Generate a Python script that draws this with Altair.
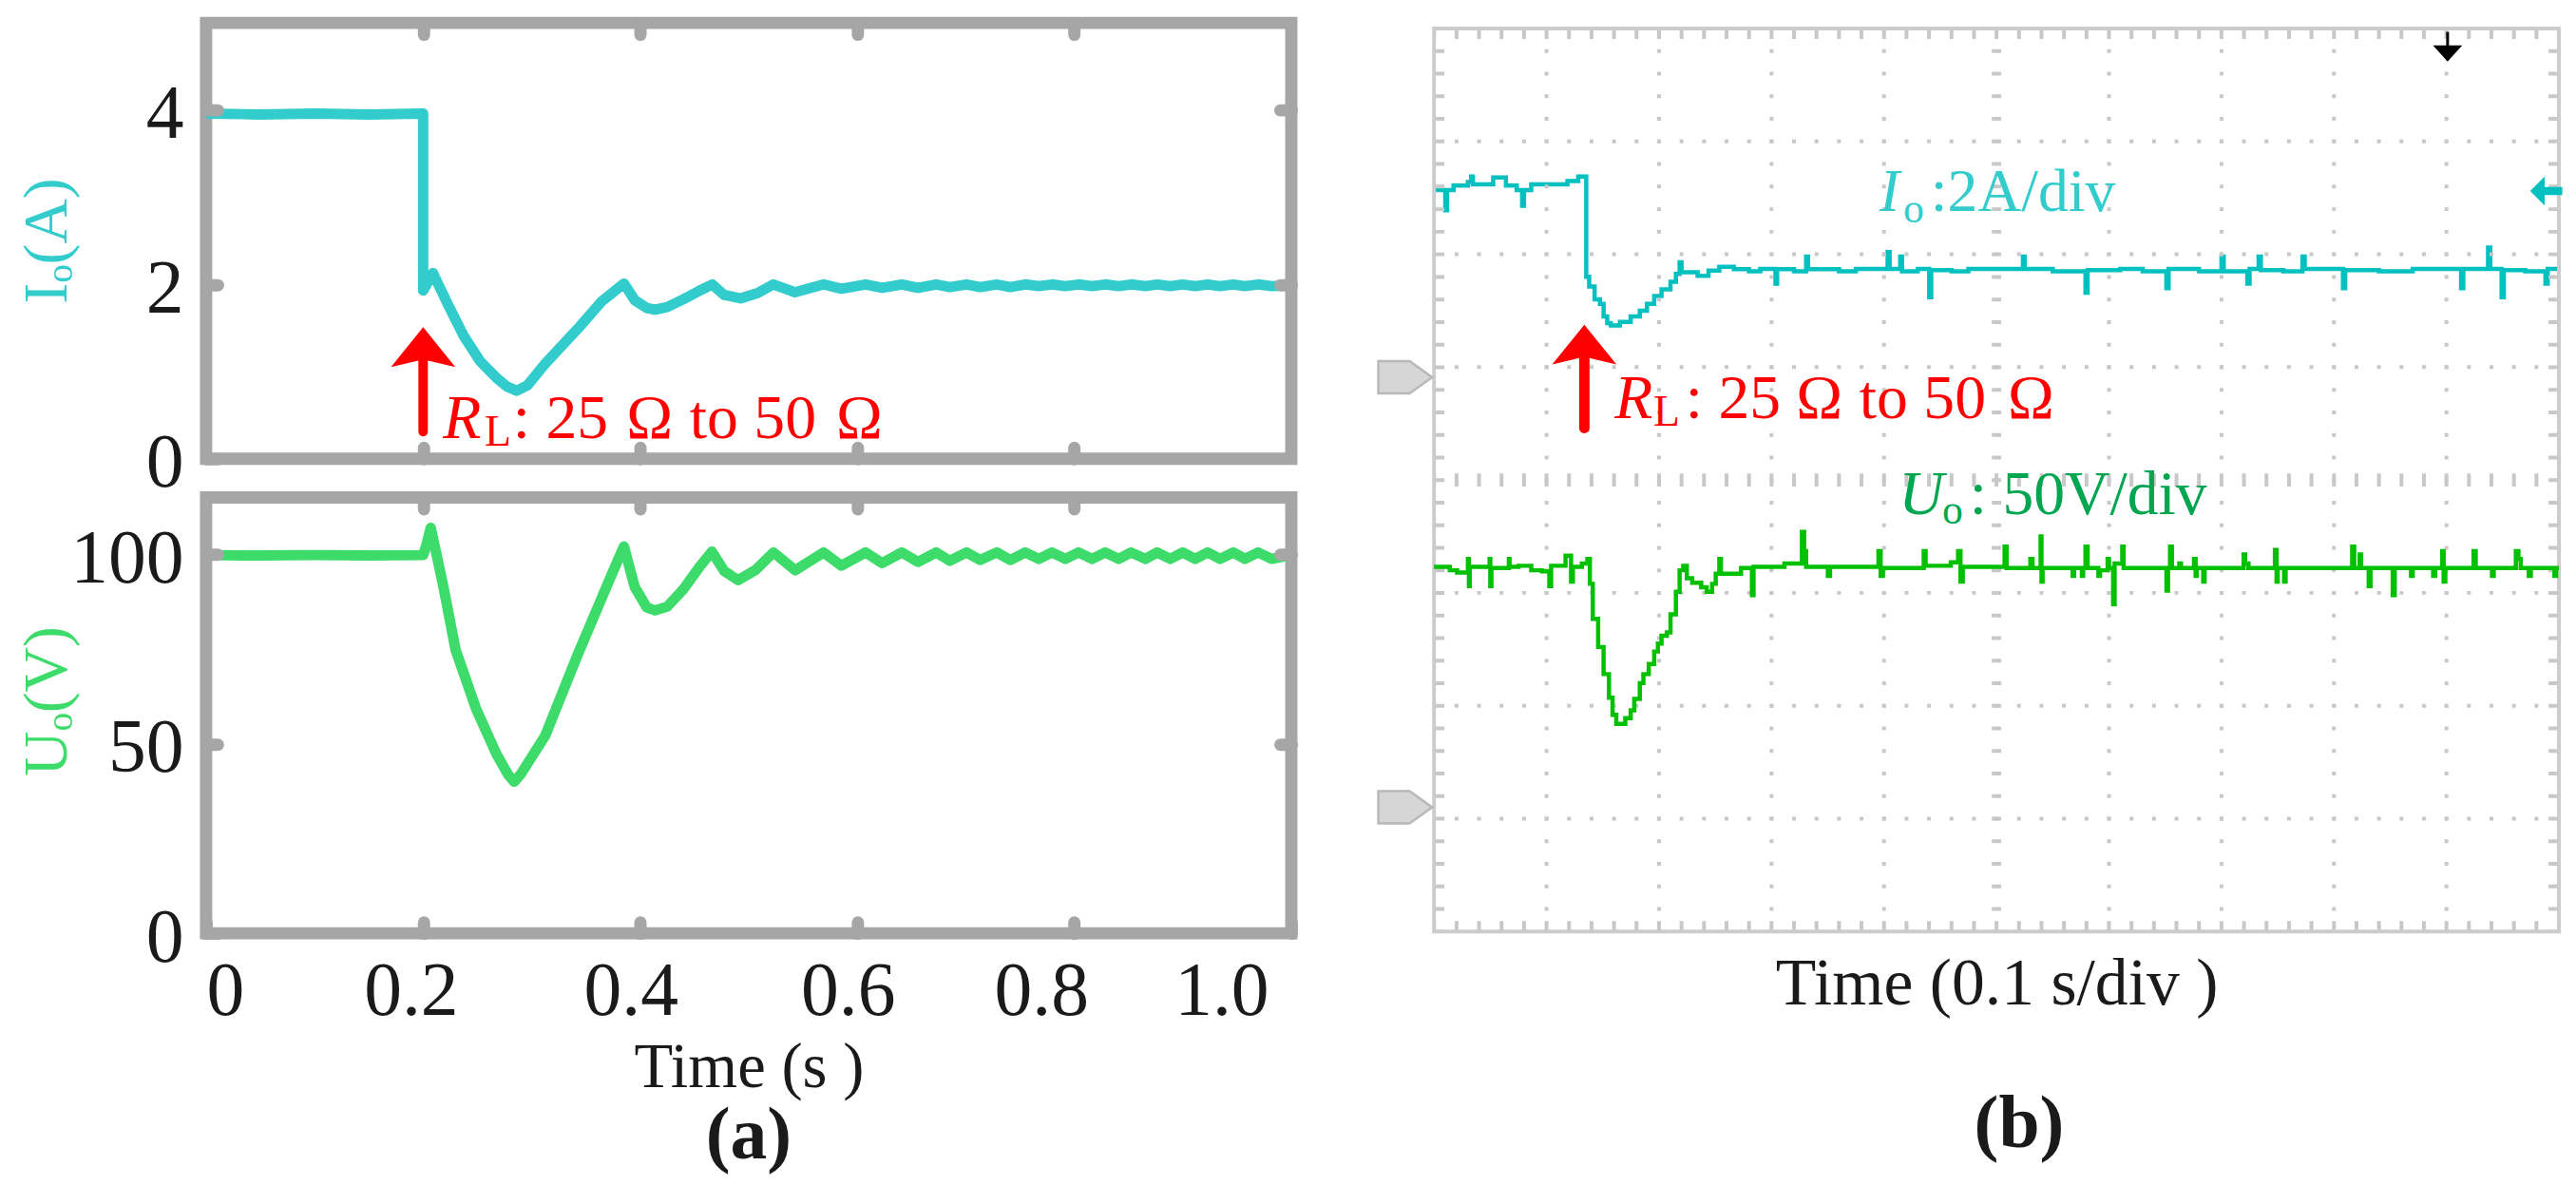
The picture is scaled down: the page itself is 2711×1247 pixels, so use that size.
import altair as alt
import pandas as pd

FONT = "Liberation Serif"
BLACK = "#1a1a1a"
RED = "#ff0000"
FRAME_A = "#a6a6a6"
GRID_B = "#c8c8c8"
IO_COLOR_A = "#33cccc"
UO_COLOR_A = "#3ddc6a"
IO_COLOR_B = "#00c0c0"
UO_COLOR_B = "#00c000"
UO_TEXT_B = "#00a550"
OMEGA = "\u03a9"

# ---------------- panel (a): simulation ----------------
A_X_TICKS = [0, 0.2, 0.4, 0.6, 0.8, 1.0]
A_X_INNER = [0.2, 0.4, 0.6, 0.8]
IO_TICKS = [0, 2, 4]
UO_TICKS = [0, 50, 100]

# (time s, Io A)
IO_A = [
    (0.0, 3.96), (0.05, 3.95), (0.1, 3.96), (0.15, 3.95), (0.2, 3.96), (0.2, 1.93),
    (0.209, 2.13), (0.2224, 1.78), (0.2374, 1.41), (0.2524, 1.12), (0.2674, 0.93),
    (0.2770, 0.83), (0.2862, 0.78), (0.2960, 0.84), (0.3124, 1.09), (0.3424, 1.49),
    (0.3649, 1.81), (0.3851, 2.01), (0.3949, 1.82), (0.4061, 1.73), (0.4138, 1.71),
    (0.4249, 1.74), (0.4399, 1.83), (0.4549, 1.93), (0.4664, 2.0), (0.4774, 1.88),
    (0.4924, 1.84), (0.5080, 1.90), (0.5228, 2.0), (0.5428, 1.91), (0.5690, 2.0),
    (0.5854, 1.95), (0.6077, 2.0), (0.6230, 1.96), (0.6411, 2.0), (0.6559, 1.96),
    (0.6728, 2.0), (0.6853, 1.97), (0.7007, 2.0), (0.7132, 1.97), (0.7286, 2.0),
    (0.7410, 1.97), (0.7548, 2.0), (0.7673, 1.98), (0.7794, 2.0), (0.7918, 1.98),
    (0.8039, 2.0), (0.8164, 1.98), (0.8285, 2.0), (0.8409, 1.98), (0.8524, 2.0),
    (0.8655, 1.98), (0.8764, 2.0), (0.8885, 1.98), (0.9000, 2.0), (0.9114, 1.98),
    (0.9229, 2.0), (0.9344, 1.98), (0.9465, 2.0), (0.9573, 1.98), (0.9694, 2.0),
    (0.9819, 1.98), (1.0, 1.99),
]

# (time s, Uo V)
UO_A = [
    (0.0, 99.8), (0.05, 99.7), (0.1, 99.8), (0.15, 99.7), (0.2, 99.8), (0.203, 102.5),
    (0.207, 107.0), (0.2187, 91.4), (0.2299, 74.8), (0.2487, 59.3), (0.2674, 47.4),
    (0.2780, 42.0), (0.2839, 40.0), (0.2900, 42.0), (0.3124, 52.1), (0.3425, 73.6),
    (0.3724, 93.8), (0.3850, 102.1), (0.3949, 91.4), (0.4061, 86.0), (0.4137, 85.2),
    (0.4249, 86.2), (0.4399, 90.8), (0.4549, 96.8), (0.4661, 100.7), (0.4774, 95.6),
    (0.4902, 93.2), (0.5060, 95.8), (0.5228, 100.5), (0.5428, 95.8), (0.5690, 100.5),
    (0.5854, 97.0), (0.6077, 100.5), (0.6230, 97.7), (0.6411, 100.5), (0.6559, 98.0),
    (0.6728, 100.5), (0.6853, 98.3), (0.7007, 100.5), (0.7132, 98.5), (0.7286, 100.5),
    (0.7410, 98.5), (0.7548, 100.5), (0.7673, 98.8), (0.7794, 100.5), (0.7918, 98.8),
    (0.8039, 100.5), (0.8164, 98.8), (0.8285, 100.5), (0.8409, 98.8), (0.8524, 100.5),
    (0.8655, 98.8), (0.8764, 100.5), (0.8885, 98.8), (0.9000, 100.5), (0.9114, 98.8),
    (0.9229, 100.5), (0.9344, 98.8), (0.9465, 100.5), (0.9573, 98.8), (0.9694, 100.5),
    (0.9819, 98.8), (1.0, 99.8),
]

# annotation anchors in panel (a), data units
ARROW_A = {"x": [0.2], "y0": [0.31], "y1": [1.2], "yh": [1.28], "yt": [0.242]}

# ---------------- panel (b): oscilloscope, in divisions ----------------
GRID_X = [1, 2, 3, 4, 6, 7, 8, 9]
CENTER_X = [5]
GRID_Y = [1, 2, 3, 5, 6, 7]
CENTER_Y = [4]

IO_B = [
    (0.0, 6.57), (0.10, 6.39), (0.115, 6.57), (0.173, 6.61), (0.301, 6.64), (0.33, 6.69),
    (0.345, 6.62), (0.526, 6.68), (0.639, 6.61), (0.735, 6.57), (0.783, 6.43), (0.80, 6.57),
    (0.864, 6.62), (1.186, 6.65), (1.282, 6.69), (1.353, 5.80), (1.379, 5.715), (1.427, 5.60),
    (1.475, 5.56), (1.507, 5.45), (1.539, 5.39), (1.571, 5.37), (1.652, 5.40), (1.748, 5.45),
    (1.829, 5.50), (1.893, 5.56), (1.957, 5.63), (2.022, 5.69), (2.102, 5.756), (2.150, 5.826),
    (2.183, 5.93), (2.20, 5.84), (2.343, 5.81), (2.440, 5.855), (2.536, 5.89), (2.665, 5.868),
    (2.80, 5.85), (2.90, 5.87), (3.035, 5.74), (3.05, 5.868), (3.20, 5.85), (3.308, 5.98),
    (3.325, 5.868), (3.60, 5.85), (3.75, 5.87), (4.032, 6.02), (4.05, 5.87), (4.144, 5.98),
    (4.16, 5.85), (4.30, 5.87), (4.402, 5.62), (4.42, 5.86), (4.60, 5.85), (4.75, 5.87),
    (5.235, 5.98), (5.25, 5.87), (5.50, 5.85), (5.791, 5.66), (5.81, 5.86), (6.10, 5.87),
    (6.30, 5.85), (6.51, 5.70), (6.53, 5.87), (6.80, 5.85), (7.0, 5.98), (7.02, 5.85),
    (7.23, 5.74), (7.25, 5.87), (7.33, 5.98), (7.35, 5.86), (7.55, 5.85), (7.72, 5.98),
    (7.74, 5.87), (8.08, 5.70), (8.10, 5.86), (8.40, 5.85), (8.70, 5.87), (9.13, 5.70),
    (9.15, 5.87), (9.37, 6.06), (9.39, 5.87), (9.49, 5.62), (9.51, 5.86), (9.70, 5.85),
    (9.88, 5.74), (9.90, 5.87), (10.0, 5.87),
]

UO_B = [
    (0.0, 3.23), (0.14, 3.20), (0.205, 3.18), (0.301, 3.30), (0.31, 3.06), (0.317, 3.23),
    (0.494, 3.30), (0.50, 3.06), (0.51, 3.22), (0.665, 3.30), (0.671, 3.23), (0.751, 3.24),
    (0.864, 3.20), (0.96, 3.19), (1.025, 3.06), (1.041, 3.24), (1.169, 3.33), (1.218, 3.10),
    (1.234, 3.23), (1.314, 3.26), (1.363, 3.30), (1.385, 3.08), (1.411, 2.77), (1.459, 2.52),
    (1.507, 2.28), (1.555, 2.07), (1.587, 1.92), (1.62, 1.84), (1.70, 1.89), (1.748, 1.96),
    (1.78, 2.06), (1.829, 2.20), (1.861, 2.28), (1.909, 2.37), (1.957, 2.48), (1.99, 2.55),
    (2.022, 2.62), (2.07, 2.65), (2.102, 2.81), (2.15, 3.01), (2.183, 3.20), (2.215, 3.24),
    (2.247, 3.13), (2.295, 3.09), (2.375, 3.05), (2.424, 3.01), (2.472, 3.08), (2.504, 3.17),
    (2.536, 3.30), (2.55, 3.17), (2.729, 3.22), (2.826, 2.98), (2.84, 3.23), (3.115, 3.26),
    (3.27, 3.54), (3.29, 3.37), (3.308, 3.23), (3.501, 3.15), (3.52, 3.23), (3.951, 3.37),
    (3.97, 3.15), (3.99, 3.22), (4.353, 3.37), (4.37, 3.24), (4.594, 3.27), (4.659, 3.37),
    (4.68, 3.10), (4.70, 3.23), (5.072, 3.41), (5.09, 3.22), (5.301, 3.30), (5.32, 3.22),
    (5.392, 3.50), (5.40, 3.10), (5.41, 3.22), (5.677, 3.15), (5.69, 3.22), (5.759, 3.15),
    (5.77, 3.22), (5.791, 3.41), (5.81, 3.22), (5.906, 3.15), (5.92, 3.20), (5.988, 3.30),
    (6.0, 3.22), (6.037, 2.90), (6.05, 3.26), (6.118, 3.41), (6.13, 3.22), (6.511, 3.02),
    (6.525, 3.22), (6.543, 3.41), (6.56, 3.22), (6.625, 3.26), (6.64, 3.22), (6.756, 3.30),
    (6.77, 3.15), (6.78, 3.22), (6.838, 3.10), (6.85, 3.22), (7.197, 3.34), (7.21, 3.26),
    (7.24, 3.22), (7.475, 3.38), (7.49, 3.10), (7.50, 3.22), (7.557, 3.10), (7.57, 3.22),
    (8.162, 3.41), (8.18, 3.22), (8.228, 3.34), (8.24, 3.22), (8.309, 3.06), (8.325, 3.22),
    (8.522, 2.98), (8.54, 3.22), (8.685, 3.15), (8.70, 3.22), (8.882, 3.15), (8.90, 3.22),
    (8.963, 3.37), (8.975, 3.10), (8.99, 3.22), (9.241, 3.37), (9.26, 3.22), (9.405, 3.15),
    (9.42, 3.22), (9.617, 3.37), (9.64, 3.30), (9.66, 3.22), (9.732, 3.15), (9.75, 3.22),
    (9.96, 3.15), (9.975, 3.22), (10.0, 3.22),
]

# marker / annotation anchors in panel (b), divisions
GROUND_MARKS = {"x": [-0.256, -0.256], "y": [4.91, 1.10]}
TRIG_MARK = {"x": [9.01], "y0": [7.97], "y1": [7.72], "yh": [7.78]}
LEVEL_MARK = {"x": [9.887], "y": [6.56]}
ARROW_B = {"x": [1.336], "y0": [4.46], "y1": [5.1], "yh": [5.20], "yt": [4.548]}
IO_LABEL_B = {"x": [3.96], "y": [6.38]}
UO_LABEL_B = {"x": [4.13], "y": [3.70]}

ARROW_UP = "M0,-0.62 L1,0.62 L0,0.38 L-1,0.62 Z"
TRI_DOWN = "M-1,-0.55 L1,-0.55 L0,0.55 Z"
LEVEL_SHAPE = "M-1,0 L-0.1,-0.9 L-0.1,-0.25 L1,-0.25 L1,0.25 L-0.1,0.25 L-0.1,0.9 Z"
GROUND_SHAPE = "M-1,-0.6 L0.16,-0.6 L1,0 L0.16,0.6 L-1,0.6 Z"

W_A, H_A = 1148, 461
W_B, H_B = 1190, 961

xa = alt.Scale(domain=[0, 1], nice=False, zero=False)
ya_io = alt.Scale(domain=[0, 5], nice=False, zero=False)
ya_uo = alt.Scale(domain=[0, 115], nice=False, zero=False)
xb = alt.Scale(domain=[0, 10], nice=False, zero=False)
yb = alt.Scale(domain=[0, 8.05], nice=False, zero=False)

TICK_STYLE = dict(offset=-12, tickSize=12, tickWidth=13, tickColor=FRAME_A,
                  tickCap="round", domain=False, grid=False, zindex=1, minExtent=0)


def bare_axis(orient, values):
    return alt.Axis(orient=orient, values=values, labels=False, title=None, **TICK_STYLE)


def y_label_axis(values, title, color, title_y):
    return alt.Axis(orient="left", values=values, labels=True, labelFont=FONT,
                    labelFontSize=80, labelColor=BLACK, labelPadding=24, labelOffset=5,
                    title=title, titleFont=FONT, titleFontSize=66, titleFontWeight="normal",
                    titleColor=color, titleX=-146, titleY=title_y, titleAngle=270,
                    titleBaseline="bottom", titleAlign="center", **TICK_STYLE)


def text_piece(df, xscale, yscale, yfield, text, dx, dy=0, size=66, style="normal",
               color=RED):
    return alt.Chart(df).mark_text(
        text=text, font=FONT, fontSize=size, fontStyle=style, color=color,
        align="left", baseline="alphabetic", dx=dx, dy=dy,
    ).encode(
        x=alt.X("x:Q", scale=xscale, axis=None),
        y=alt.Y(f"{yfield}:Q", scale=yscale, axis=None),
    )


def arrow(df, xscale, yscale, shaft_w):
    shaft = alt.Chart(df).mark_rule(color=RED, strokeWidth=shaft_w, strokeCap="round").encode(
        x=alt.X("x:Q", scale=xscale, axis=None),
        y=alt.Y("y0:Q", scale=yscale, axis=None), y2="y1:Q")
    head = alt.Chart(df).mark_point(shape=ARROW_UP, size=4624, filled=True, color=RED,
                                    opacity=1, strokeWidth=0).encode(
        x=alt.X("x:Q", scale=xscale, axis=None),
        y=alt.Y("yh:Q", scale=yscale, axis=None))
    return [shaft, head]


def rl_label(df, xscale, yscale, offsets):
    r, l, p1, o1, p2, o2 = offsets
    return [
        text_piece(df, xscale, yscale, "yt", "R", r, style="italic"),
        text_piece(df, xscale, yscale, "yt", "L", l, dy=8, size=46),
        text_piece(df, xscale, yscale, "yt", ": 25", p1),
        text_piece(df, xscale, yscale, "yt", OMEGA, o1),
        text_piece(df, xscale, yscale, "yt", "to 50", p2),
        text_piece(df, xscale, yscale, "yt", OMEGA, o2),
    ]


# ---------- (a) top: Io ----------
io_a = pd.DataFrame(IO_A, columns=["t", "v"])
io_a["i"] = range(len(io_a))
io_line = alt.Chart(io_a).mark_line(color=IO_COLOR_A, strokeWidth=11, strokeJoin="round").encode(
    x=alt.X("t:Q", scale=xa, axis=bare_axis("bottom", A_X_INNER)),
    y=alt.Y("v:Q", scale=ya_io, axis=y_label_axis(IO_TICKS, "Iₒ(A)", IO_COLOR_A, 230)),
    order="i:Q")
io_frame = alt.Chart(io_a).mark_line(opacity=0).encode(
    x=alt.X("t:Q", scale=xa, axis=bare_axis("top", A_X_INNER)),
    y=alt.Y("v:Q", scale=ya_io, axis=bare_axis("right", [2, 4])))
arr_a = pd.DataFrame(ARROW_A)
top_a = alt.layer(
    io_line, io_frame, *arrow(arr_a, xa, ya_io, 10),
    *rl_label(arr_a, xa, ya_io, (21, 65, 95, 215, 282, 437)),
).resolve_axis(x="independent", y="independent").properties(
    width=W_A, height=H_A, view=alt.ViewBackground(stroke=FRAME_A, strokeWidth=13))

# ---------- (a) bottom: Uo ----------
uo_a = pd.DataFrame(UO_A, columns=["t", "v"])
uo_a["i"] = range(len(uo_a))
x_label_axis = alt.Axis(
    orient="bottom", values=A_X_TICKS, labels=True, labelFont=FONT, labelFontSize=80,
    labelColor=BLACK, labelPadding=23, labelFlush=False, labelOverlap=False,
    labelExpr="datum.value == 0 ? '0' : format(datum.value, '.1f')",
    labelOffset={"condition": [
        {"test": "datum.value < 0.1", "value": 20},
        {"test": "datum.value > 0.9", "value": -74},
        {"test": "datum.value > 0.7", "value": -35},
        {"test": "datum.value < 0.3", "value": -13},
    ], "value": -10},
    title="Time (s )", titleFont=FONT, titleFontSize=67, titleFontWeight="normal",
    titleColor=BLACK, titlePadding=7, **TICK_STYLE)
uo_line = alt.Chart(uo_a).mark_line(color=UO_COLOR_A, strokeWidth=11, strokeJoin="round").encode(
    x=alt.X("t:Q", scale=xa, axis=x_label_axis),
    y=alt.Y("v:Q", scale=ya_uo, axis=y_label_axis(UO_TICKS, "Uₒ(V)", UO_COLOR_A, 215)),
    order="i:Q")
uo_frame = alt.Chart(uo_a).mark_line(opacity=0).encode(
    x=alt.X("t:Q", scale=xa, axis=bare_axis("top", A_X_INNER)),
    y=alt.Y("v:Q", scale=ya_uo, axis=bare_axis("right", [50, 100])))
bot_a = alt.layer(uo_line, uo_frame).resolve_axis(
    x="independent", y="independent").properties(
    width=W_A, height=H_A, view=alt.ViewBackground(stroke=FRAME_A, strokeWidth=13),
    title=alt.TitleParams(text="(a)", orient="bottom", font=FONT, fontSize=78,
                          fontWeight="bold", color=BLACK, anchor="middle", frame="group",
                          offset=1))

col_a = alt.vconcat(top_a, bot_a, spacing=41, bounds="flush")

# ---------- (b) oscilloscope ----------
def rule_v(df, width, dash, dash_len=19.88, x_off=0):
    return alt.Chart(df).mark_rule(color=GRID_B, strokeWidth=width, strokeDash=[dash, dash_len],
                                   strokeDashOffset=dash / 2, xOffset=x_off).encode(
        x=alt.X("x:Q", scale=xb, axis=None),
        y=alt.Y("y1:Q", scale=yb, axis=None), y2="y0:Q")


def rule_h(df, width, dash, dash_len=19.8, y_off=0):
    return alt.Chart(df).mark_rule(color=GRID_B, strokeWidth=width, strokeDash=[dash, dash_len],
                                   strokeDashOffset=dash / 2, yOffset=y_off).encode(
        x=alt.X("x0:Q", scale=xb, axis=None), x2="x1:Q",
        y=alt.Y("y:Q", scale=yb, axis=None))


gv = pd.DataFrame({"x": GRID_X, "y0": 0.0, "y1": 8.0})
gvc = pd.DataFrame({"x": CENTER_X, "y0": 0.0, "y1": 8.0})
gh = pd.DataFrame({"y": GRID_Y, "x0": 0.0, "x1": 10.0})
ghc = pd.DataFrame({"y": CENTER_Y, "x0": 0.0, "x1": 10.0})
edge_l = pd.DataFrame({"x": [0.0], "y0": 0.0, "y1": 8.0})
edge_r = pd.DataFrame({"x": [10.0], "y0": 0.0, "y1": 8.0})
edge_t = pd.DataFrame({"y": [8.0], "x0": 0.0, "x1": 10.0})
edge_b = pd.DataFrame({"y": [0.0], "x0": 0.0, "x1": 10.0})
frame_df = pd.DataFrame({"x0": [0.0], "x1": [10.0], "y0": [0.0], "y1": [8.0]})

frame_b = alt.Chart(frame_df).mark_rect(filled=False, stroke="#cccccc", strokeWidth=4).encode(
    x=alt.X("x0:Q", scale=xb, axis=None), x2="x1:Q",
    y=alt.Y("y0:Q", scale=yb, axis=None), y2="y1:Q")

io_b = pd.DataFrame(IO_B, columns=["x", "y"])
uo_b = pd.DataFrame(UO_B, columns=["x", "y"])
io_b_line = alt.Chart(io_b).mark_line(color=IO_COLOR_B, strokeWidth=4.5,
                                      interpolate="step-after").encode(
    x=alt.X("x:Q", scale=xb, axis=alt.Axis(
        orient="bottom", labels=False, ticks=False, domain=False, grid=False, minExtent=0,
        title="Time (0.1 s/div )", titleFont=FONT, titleFontSize=70,
        titleFontWeight="normal", titleColor=BLACK, titlePadding=22)),
    y=alt.Y("y:Q", scale=yb, axis=None))
uo_b_line = alt.Chart(uo_b).mark_line(color=UO_COLOR_B, strokeWidth=4.5,
                                      interpolate="step-after").encode(
    x=alt.X("x:Q", scale=xb, axis=None),
    y=alt.Y("y:Q", scale=yb, axis=None))

ground = alt.Chart(pd.DataFrame(GROUND_MARKS)).mark_point(
    shape=GROUND_SHAPE, size=3249, filled=True, fill="#d6d6d6", stroke="#b8b8b8",
    strokeWidth=2.5, opacity=1).encode(
    x=alt.X("x:Q", scale=xb, axis=None), y=alt.Y("y:Q", scale=yb, axis=None))
trig_df = pd.DataFrame(TRIG_MARK)
trig_line = alt.Chart(trig_df).mark_rule(color="black", strokeWidth=3).encode(
    x=alt.X("x:Q", scale=xb, axis=None),
    y=alt.Y("y0:Q", scale=yb, axis=None), y2="y1:Q")
trig_head = alt.Chart(trig_df).mark_point(shape=TRI_DOWN, size=961, filled=True,
                                          color="black", opacity=1).encode(
    x=alt.X("x:Q", scale=xb, axis=None), y=alt.Y("yh:Q", scale=yb, axis=None))
level = alt.Chart(pd.DataFrame(LEVEL_MARK)).mark_point(
    shape=LEVEL_SHAPE, size=1156, filled=True, color=IO_COLOR_B, opacity=1).encode(
    x=alt.X("x:Q", scale=xb, axis=None), y=alt.Y("y:Q", scale=yb, axis=None))

arr_b = pd.DataFrame(ARROW_B)
io_lab = pd.DataFrame(IO_LABEL_B)
uo_lab = pd.DataFrame(UO_LABEL_B)

panel_b = alt.layer(
    io_b_line,
    rule_v(gv, 4, 4), rule_v(gvc, 10, 4), rule_h(gh, 4, 4), rule_h(ghc, 14, 4),
    rule_v(edge_l, 11, 4, x_off=5.5), rule_v(edge_r, 11, 4, x_off=-5.5),
    rule_h(edge_t, 11, 4, y_off=5.5), rule_h(edge_b, 11, 4, y_off=-5.5),
    frame_b, uo_b_line, ground, trig_line, trig_head, level,
    *arrow(arr_b, xb, yb, 11),
    *rl_label(arr_b, xb, yb, (32, 73, 107, 224, 291, 448)),
    text_piece(io_lab, xb, yb, "y", "I", 0, size=64, style="italic", color=IO_COLOR_A),
    text_piece(io_lab, xb, yb, "y", "o", 25, dy=12, size=44, color=IO_COLOR_A),
    text_piece(io_lab, xb, yb, "y", ":2A/div", 54, size=64, color=IO_COLOR_A),
    text_piece(uo_lab, xb, yb, "y", "U", 0, size=66, style="italic", color=UO_TEXT_B),
    text_piece(uo_lab, xb, yb, "y", "o", 46, dy=10, size=44, color=UO_TEXT_B),
    text_piece(uo_lab, xb, yb, "y", ": 50V/div", 75, size=66, color=UO_TEXT_B),
).resolve_axis(x="independent", y="independent").properties(
    width=W_B, height=H_B, view=alt.ViewBackground(stroke="transparent"),
    title=alt.TitleParams(text="(b)", orient="bottom", font=FONT, fontSize=78,
                          fontWeight="bold", color=BLACK, anchor="middle", frame="group",
                          dx=24, offset=75))

chart = alt.hconcat(col_a, panel_b, spacing=73).properties(
    padding={"left": 2, "top": 0, "right": 0, "bottom": 0})

chart.save("out.html", embed_options={"renderer": "svg", "actions": False})
